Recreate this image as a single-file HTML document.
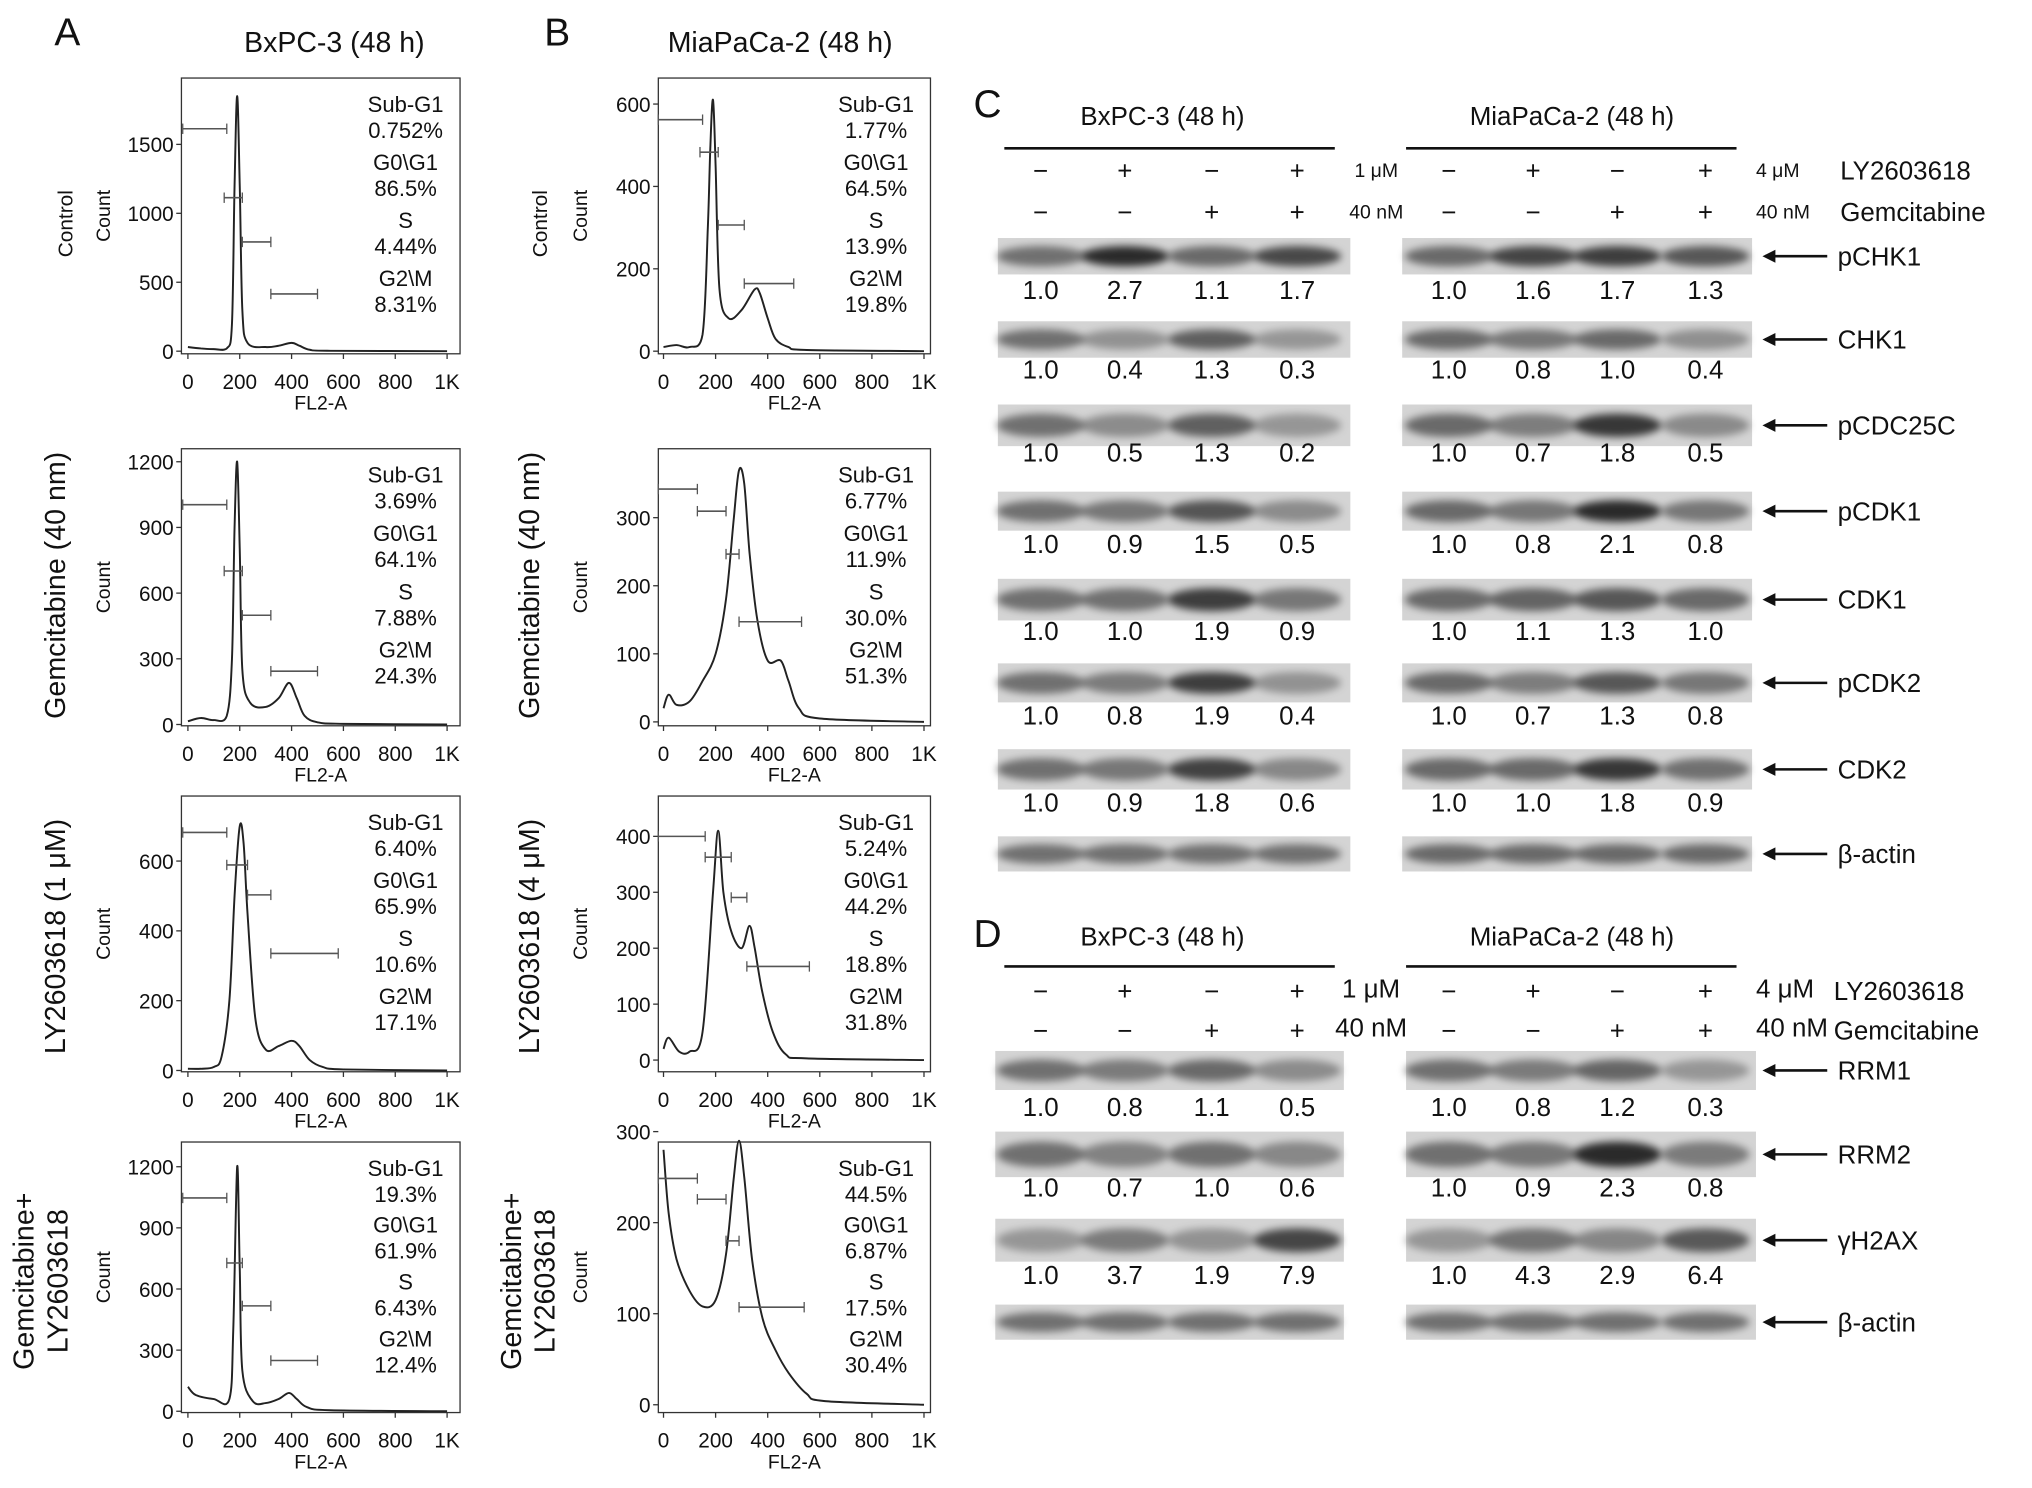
<!DOCTYPE html>
<html><head><meta charset="utf-8">
<style>
html,body{margin:0;padding:0;background:#fff;}
svg{display:block;font-family:"Liberation Sans",sans-serif;}
</style></head>
<body>
<svg id="fig" width="2032" height="1488" viewBox="0 0 1568 1144" preserveAspectRatio="none" xmlns="http://www.w3.org/2000/svg">
<defs><filter id="blur" x="-20%" y="-50%" width="140%" height="200%"><feGaussianBlur stdDeviation="3"/></filter></defs>
<g id="root"></g>
</svg>
<script>
// ---------- Flow cytometry data ----------
const xTicks = [0,200,400,600,800,1000];
const xTickLabels = ["0","200","400","600","800","1K"];
const curveA1 = [[0,30],[50,20],[100,15],[150,20],[170,200],[180,1200],[190,1850],[200,1200],[210,300],[230,60],[300,30],[350,40],[400,60],[430,40],[470,10],[550,3],[1000,0]];
const curveA2 = [[0,15],[50,30],[100,20],[150,40],[170,300],[180,900],[190,1200],[200,800],[210,250],[240,100],[300,80],[350,120],[390,190],[420,120],[450,40],[500,10],[600,3],[1000,0]];
const curveA3 = [[0,5],[50,5],[100,10],[130,40],[160,200],[180,500],[200,700],[215,650],[230,450],[260,150],[300,60],[350,70],[400,85],[430,70],[470,30],[520,10],[600,3],[1000,0]];
const curveA4 = [[0,120],[30,80],[100,60],[160,60],[175,400],[190,1200],[200,700],[210,200],[250,50],[300,40],[350,60],[390,90],[420,60],[460,20],[550,5],[1000,0]];
const curveB1 = [[0,10],[50,15],[100,10],[150,40],[170,300],[180,500],[190,610],[200,450],[215,150],[250,80],[300,100],[350,150],[370,140],[400,80],[430,30],[480,10],[550,3],[1000,0]];
const curveB2 = [[0,20],[20,40],[50,25],[100,30],[150,60],[200,100],[240,180],[270,300],[290,370],[310,350],[330,250],[360,150],[400,90],[450,90],[480,60],[520,20],[600,5],[1000,0]];
const curveB3 = [[0,20],[20,40],[60,15],[100,15],[150,50],[190,300],[210,410],[230,300],[260,230],[300,200],[330,240],[350,200],[380,120],[420,50],[470,10],[550,3],[1000,0]];
const curveB4 = [[0,280],[20,210],[50,160],[100,125],[150,108],[200,115],[240,165],[270,250],[290,290],[310,250],[340,160],[380,95],[430,60],[480,35],[550,12],[620,4],[1000,0]];
const yTicksA1=[0,500,1000,1500], yTicksA2=[0,300,600,900,1200], yTicksA3=[0,200,400,600], yTicksA4=[0,300,600,900,1200];
const yTicksB1=[0,200,400,600], yTicksB2=[0,100,200,300], yTicksB3=[0,100,200,300,400], yTicksB4=[0,100,200,300];
const statsA1=["0.752%","86.5%","4.44%","8.31%"], statsA2=["3.69%","64.1%","7.88%","24.3%"], statsA3=["6.40%","65.9%","10.6%","17.1%"], statsA4=["19.3%","61.9%","6.43%","12.4%"];
const statsB1=["1.77%","64.5%","13.9%","19.8%"], statsB2=["6.77%","11.9%","30.0%","51.3%"], statsB3=["5.24%","44.2%","18.8%","31.8%"], statsB4=["44.5%","6.87%","17.5%","30.4%"];
const gateNames=["Sub-G1","G0\\G1","S","G2\\M"];
// ---------- Western blot data ----------
const blotCRows=["pCHK1","CHK1","pCDC25C","pCDK1","CDK1","pCDK2","CDK2","β-actin"];
const blotCLeft=[[1.0,2.7,1.1,1.7],[1.0,0.4,1.3,0.3],[1.0,0.5,1.3,0.2],[1.0,0.9,1.5,0.5],[1.0,1.0,1.9,0.9],[1.0,0.8,1.9,0.4],[1.0,0.9,1.8,0.6],null];
const blotCRight=[[1.0,1.6,1.7,1.3],[1.0,0.8,1.0,0.4],[1.0,0.7,1.8,0.5],[1.0,0.8,2.1,0.8],[1.0,1.1,1.3,1.0],[1.0,0.7,1.3,0.8],[1.0,1.0,1.8,0.9],null];
const blotDRows=["RRM1","RRM2","γH2AX","β-actin"];
const blotDLeft=[[1.0,0.8,1.1,0.5],[1.0,0.7,1.0,0.6],[1.0,3.7,1.9,7.9],null];
const blotDRight=[[1.0,0.8,1.2,0.3],[1.0,0.9,2.3,0.8],[1.0,4.3,2.9,6.4],null];

const NS="http://www.w3.org/2000/svg";
const root=document.getElementById('root');
function el(tag,attrs,parent,text){const e=document.createElementNS(NS,tag);for(const k in attrs)e.setAttribute(k,attrs[k]);if(text!==undefined)e.textContent=text;(parent||root).appendChild(e);return e;}
function txt(x,y,s,size,anchor,parent,extra){const a={x:x,y:y,'font-size':size,'text-anchor':anchor||'start',fill:'#111'};if(extra)for(const k in extra)a[k]=extra[k];return el('text',a,parent,s);}

function histogram(name,box,y0px,topVal,topPx,yTicks,curve,stats,gates){
  const g=el('g',{});
  
  
  const xs=v=>box.x0+(v/1000)*(box.x1-box.x0);
  const ys=v=>y0px-(v/topVal)*(y0px-topPx);
  el('rect',{x:box.l,y:box.t,width:box.r-box.l,height:box.b-box.t,fill:'none',stroke:'#333','stroke-width':1},g);
  xTicks.forEach((t,i)=>{el('line',{x1:xs(t),x2:xs(t),y1:box.b,y2:box.b+4,stroke:'#333'},g);
    const lb=txt(xs(t),box.b+27,xTickLabels[i],16,'middle',g);
    
    });
  const xt=txt((box.l+box.r)/2,box.b+43,"FL2-A",15,'middle',g);
  
  
  yTicks.forEach(t=>{el('line',{x1:box.l-4,x2:box.l,y1:ys(t),y2:ys(t),stroke:'#333'},g);
    const lb=txt(box.l-6,ys(t)+6,String(t),16,'end',g);
    
    });
  const pts=curve.map(p=>[xs(p[0]),ys(p[1])]);
  let d='M'+pts[0][0].toFixed(1)+','+pts[0][1].toFixed(1);
  for(let i=0;i<pts.length-1;i++){const p0=pts[Math.max(0,i-1)],p1=pts[i],p2=pts[i+1],p3=pts[Math.min(pts.length-1,i+2)];
    const c1=[p1[0]+(p2[0]-p0[0])/6,p1[1]+(p2[1]-p0[1])/6],c2=[p2[0]-(p3[0]-p1[0])/6,p2[1]-(p3[1]-p1[1])/6];
    d+=`C${c1[0].toFixed(1)},${Math.min(y0px,c1[1]).toFixed(1)} ${c2[0].toFixed(1)},${Math.min(y0px,c2[1]).toFixed(1)} ${p2[0].toFixed(1)},${p2[1].toFixed(1)}`;}
  const path=el('path',{d:d,fill:'none',stroke:'#222','stroke-width':1.5},g);
  
  
  gates.forEach(gt=>{const y=gt[2];el('line',{x1:xs(gt[0]),x2:xs(gt[1]),y1:y,y2:y,stroke:'#555','stroke-width':1.2},g);
    el('line',{x1:xs(gt[0]),x2:xs(gt[0]),y1:y-4,y2:y+4,stroke:'#555'},g);el('line',{x1:xs(gt[1]),x2:xs(gt[1]),y1:y-4,y2:y+4,stroke:'#555'},g);});
  const cx=box.r-42, step=(box.b-box.t-20)/4;
  stats.forEach((s,i)=>{const y=box.t+26+i*step*0.93;
    const a=txt(cx,y,gateNames[i],17,'middle',g);
    const b=txt(cx,y+20,s,17,'middle',g);});
  const yl=txt(0,0,"Count",15,'middle',g,{transform:`translate(${box.l-55},${(box.t+box.b)/2}) rotate(-90)`});
  
  
}
const A={l:140,r:355,x0:145,x1:345}, B={l:508,r:718,x0:512,x1:713};
function mk(base,t,b){return Object.assign({},base,{t:t,b:b});}
let bx;
bx=mk(A,60,272);histogram('histogram-a-control',bx,270,1500,111,yTicksA1,curveA1,statsA1,[[-20,150,99],[140,210,152],[210,320,186],[320,500,226]]);
bx=mk(A,345,558);histogram('histogram-a-gemcitabine',bx,557,1200,355,yTicksA2,curveA2,statsA2,[[-20,150,388],[140,210,439],[210,320,473],[320,500,516]]);
bx=mk(A,612,824);histogram('histogram-a-ly2603618',bx,823,600,662,yTicksA3,curveA3,statsA3,[[-20,150,640],[150,230,665],[230,320,688],[320,580,733]]);
bx=mk(A,878,1086);histogram('histogram-a-combination',bx,1085,1200,897,yTicksA4,curveA4,statsA4,[[-20,150,921],[150,210,971],[210,320,1004],[320,500,1046]]);
bx=mk(B,60,272);histogram('histogram-b-control',bx,270,600,80,yTicksB1,curveB1,statsB1,[[-20,150,92],[140,210,117],[210,310,173],[310,500,218]]);
bx=mk(B,345,558);histogram('histogram-b-gemcitabine',bx,555,300,398,yTicksB2,curveB2,statsB2,[[-20,130,376],[130,240,393],[240,290,426],[290,530,478]]);
bx=mk(B,612,824);histogram('histogram-b-ly2603618',bx,815,400,643,yTicksB3,curveB3,statsB3,[[-20,160,643],[160,260,659],[260,320,690],[320,560,743]]);
bx=mk(B,878,1086);histogram('histogram-b-combination',bx,1080,300,870,yTicksB4,curveB4,statsB4,[[-20,130,906],[130,240,922],[240,290,954],[290,540,1005]]);

[['A',52,35,'panel-label-a'],['B',430,35,'panel-label-b'],['C',762,90,'panel-label-c'],['D',762,728,'panel-label-d']].forEach(p=>{const t=txt(p[1],p[2],p[0],30,'middle');});
let t=txt(258,40,"BxPC-3 (48 h)",22,'middle');
t=txt(602,40,"MiaPaCa-2 (48 h)",22,'middle');
function vlabel(x,y,s,size,name){const e=txt(0,0,s,size,'middle',null,{transform:`translate(${x},${y}) rotate(-90)`});}
vlabel(56,172,"Control",16,'row-label-control-a');vlabel(422,172,"Control",16,'row-label-control-b');
vlabel(50,450,"Gemcitabine (40 nm)",22,'row-label-gem-a');vlabel(416,450,"Gemcitabine (40 nm)",22,'row-label-gem-b');
vlabel(50,720,"LY2603618 (1 μM)",22,'row-label-ly-a');vlabel(416,720,"LY2603618 (4 μM)",22,'row-label-ly-b');
vlabel(26,985,"Gemcitabine+",22,'row-label-combo-a1');vlabel(52,985,"LY2603618",22,'row-label-combo-a2');
vlabel(402,985,"Gemcitabine+",22,'row-label-combo-b1');vlabel(428,985,"LY2603618",22,'row-label-combo-b2');

// ---------- Western blots ----------
const lanesL=[803,868,935,1001], lanesR=[1118,1183,1248,1316];
function blot(name,x0,x1,y,h,lanes,vals,base,intensity){
  const g=el('g',{});
  
  
  el('rect',{x:x0,y:y,width:x1-x0,height:h,fill:base},g);
  lanes.forEach((lx,i)=>{const v=vals?vals[i]:1;const dark=Math.max(0.15,Math.min(1,intensity*v));
    const b=el('ellipse',{cx:lx,cy:y+h/2,rx:34,ry:h*0.28,fill:'#000','fill-opacity':(0.2+0.6*dark).toFixed(2),filter:'url(#blur)'},g);
    
    });
}
function values(y,lanes,vals,name){vals.forEach((v,i)=>{const e=txt(lanes[i],y,v.toFixed(1),20,'middle');});}
function arrowLabel(y,s){el('line',{x1:1362,x2:1410,y1:y,y2:y,stroke:'#111','stroke-width':2});el('path',{d:`M1360,${y} l10,-5 l0,10z`,fill:'#111'});const e=txt(1418,y+7,s,20,'start');}
const rowC=[[183,28,230],[247,28,291],[311,32,355],[378,30,425],[445,32,492],[510,30,557],[576,31,624],[643,27,0]];
blotCRows.forEach((r,i)=>{const [y,h,vy]=rowC[i];
  blot('blot-c-left-'+i,770,1042,y,h,lanesL,blotCLeft[i],'#d4d4d4',0.45);
  blot('blot-c-right-'+i,1082,1352,y,h,lanesR,blotCRight[i],'#d4d4d4',0.5);
  arrowLabel(y+h/2,r);
  if(blotCLeft[i]){values(vy,lanesL,blotCLeft[i],'blot-value');values(vy,lanesR,blotCRight[i],'blot-value');}
});
const rowD=[[808,30,858],[870,35,920],[937,33,987],[1003,27,0]];
blotDRows.forEach((r,i)=>{const [y,h,vy]=rowD[i];
  const sc=i==2?0.1:0.45;
  blot('blot-d-left-'+i,768,1037,y,h,lanesL,blotDLeft[i],'#d4d4d4',sc);
  blot('blot-d-right-'+i,1085,1355,y,h,lanesR,blotDRight[i],'#d4d4d4',sc);
  arrowLabel(y+h/2,r);
  if(blotDLeft[i]){values(vy,lanesL,blotDLeft[i],'blot-value');values(vy,lanesR,blotDRight[i],'blot-value');}
});
function header(y,lineY,ly,gy,lyLabL,lyLabR,gemX,size,labX){
  t=txt(897,y,"BxPC-3 (48 h)",20,'middle');
  t=txt(1213,y,"MiaPaCa-2 (48 h)",20,'middle');
  el('line',{x1:775,x2:1030,y1:lineY,y2:lineY,stroke:'#111','stroke-width':2});
  el('line',{x1:1085,x2:1340,y1:lineY,y2:lineY,stroke:'#111','stroke-width':2});
  const ly1=['−','+','−','+'], gm=['−','−','+','+'];
  [lanesL,lanesR].forEach(L=>L.forEach((x,i)=>{txt(x,ly,ly1[i],20,'middle');txt(x,gy,gm[i],20,'middle');}));
  txt(labX,ly-2,lyLabL,size,'middle');txt(labX,gy-2,'40 nM',size,'middle');
  txt(1355,ly-2,lyLabR,size,'start');txt(1355,gy-2,'40 nM',size,'start');
  txt(gemX,ly,'LY2603618',20,'start');txt(gemX,gy,'Gemcitabine',20,'start');
}
header(96,114,138,170,'1 μM','4 μM',1420,15,1062);
header(727,743,769,799,'1 μM','4 μM',1415,20,1058);
</script>
</body></html>
